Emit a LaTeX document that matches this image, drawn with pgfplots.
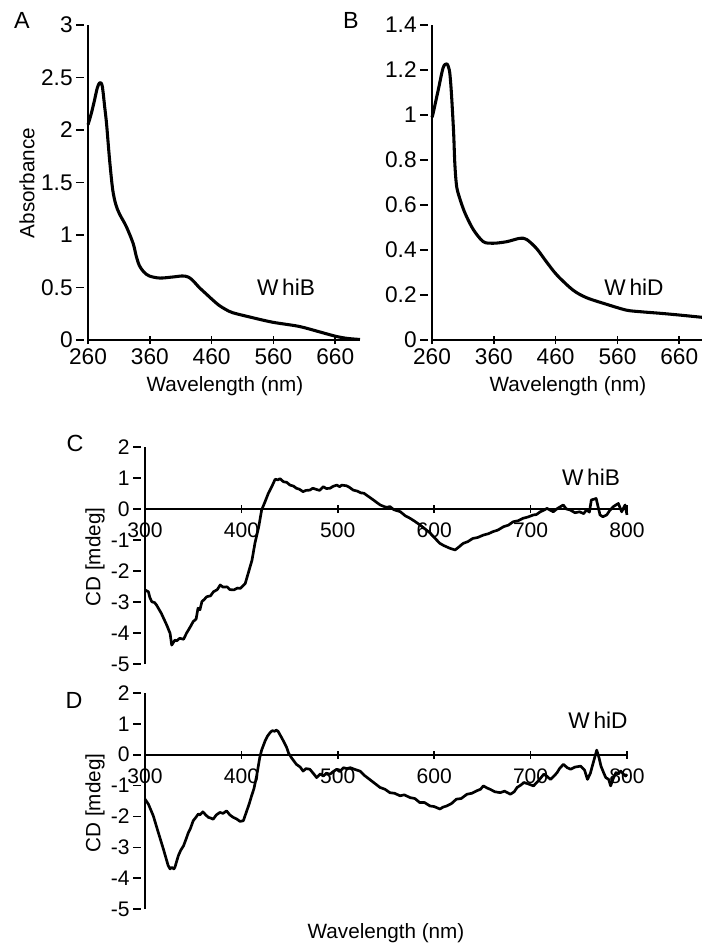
\documentclass[border=0pt]{standalone}
\usepackage{fontspec}
\setmainfont{Liberation Sans}
\usepackage{pgfplots}
\pgfplotsset{compat=1.18}

\newcommand\tfont{\fontsize{15.5}{18}\selectfont}
\newcommand\afont{\fontsize{17}{19}\selectfont}
\newcommand\cfont{\fontsize{15.8}{18}\selectfont}
\pgfplotsset{
  base/.style={
    scale only axis,
    anchor=south west,
    axis line style={line width=1.4pt},
    tick style={line width=1.2pt, black},
    tick align=inside,
    major tick length=6pt,
    every major y tick/.append style={xshift=-6pt},
    /pgf/number format/assume math mode=true,
    clip=false,
  },
  noarr/.style={
    every outer x axis line/.append style={-},
    every outer y axis line/.append style={-},
    every inner x axis line/.append style={-},
    every inner y axis line/.append style={-},
  },
  curve/.style={black, line width=2.3pt, line join=round, no marks},
}

\begin{document}
\begin{tikzpicture}
% ---------- A ----------
\begin{axis}[base, at={(66pt,-255pt)}, width=204pt, height=236.25pt,
  axis lines=left, noarr, xmin=260, xmax=700, ymin=0, ymax=3,
  tick label style={font=\afont},
  xtick={260,360,460,560,660}, ytick={0,0.5,1,1.5,2,2.5,3},
  yticklabel style={xshift=-5pt}, xticklabel style={yshift=-2pt, inner ysep=1pt}]
\addplot[curve, smooth, tension=0.5] coordinates {
(260,2.05) (265,2.15) (270,2.27) (275,2.40) (279,2.45) (283,2.42) (287,2.22)
(290,2.06) (295,1.71) (300,1.43) (305,1.29) (311,1.20) (322,1.08) (333,0.92)
(338,0.80) (343,0.71) (350,0.65) (359,0.61) (376,0.59) (397,0.60) (413,0.61) (422,0.60)
(429,0.57) (440,0.50) (451,0.44) (462,0.38) (472,0.33) (483,0.29) (494,0.26)
(521,0.22) (558,0.17) (601,0.13) (633,0.08) (661,0.035) (680,0.015) (700,0.005)};
\end{axis}
% ---------- B ----------
\begin{axis}[base, at={(324pt,-255pt)}, width=204pt, height=236.25pt,
  axis lines=left, noarr, xmin=260, xmax=700, ymin=0, ymax=1.4,
  tick label style={font=\afont},
  xtick={260,360,460,560,660}, ytick={0,0.2,0.4,0.6,0.8,1,1.2,1.4},
  yticklabel style={xshift=-5pt}, xticklabel style={yshift=-2pt, inner ysep=1pt}]
\addplot[curve, smooth, tension=0.5] coordinates {
(260,0.99) (262,1.01) (270,1.11) (278,1.21) (284,1.227) (288,1.20) (290,1.15)
(292,1.07) (295,0.92) (297,0.78) (300,0.68) (306,0.62) (314,0.56) (327,0.49)
(343,0.437) (359,0.43) (381,0.437) (402,0.452) (413,0.447) (429,0.407)
(445,0.348) (462,0.289) (488,0.222) (510,0.188) (542,0.159) (574,0.133)
(596,0.126) (628,0.119) (660,0.111) (700,0.10)};
\end{axis}
% ---------- C ----------
\begin{axis}[base, at={(108.75pt,-498pt)}, width=361.5pt, height=162.75pt,
  axis x line=middle, axis y line=left, noarr, hide obscured x ticks=false,
  tick label style={font=\cfont},
  xmin=300, xmax=800, ymin=-5, ymax=2,
  xtick={300,400,500,600,700,800}, ytick={-5,-4,-3,-2,-1,0,1,2},
  yticklabel style={xshift=-5pt}, xticklabel style={yshift=-4pt}]
\addplot[curve, line width=2pt] coordinates {
(300,-2.61) (303.5,-2.67) (305,-2.85) (307,-2.99) (310,-3.02) (312,-3.10) (317,-3.37) (322.5,-3.74)
(326,-4.01) (327.7,-4.39) (331,-4.23) (333,-4.25) (336,-4.17) (340,-4.20) (343,-4.01)
(347,-3.80) (350,-3.63) (353,-3.55) (355,-3.20) (357,-3.25) (359,-2.99) (362,-2.90) (364,-2.83)
(368,-2.80) (371,-2.67) (375,-2.60) (378,-2.45) (381,-2.52) (385,-2.51) (388,-2.60)
(392,-2.61) (396,-2.55) (399,-2.56) (404,-2.40) (407,-2.08) (411,-1.65)
(414,-1.11) (418,-0.57) (421,-0.03) (424.6,0.24) (428,0.51) (431.5,0.72)
(435,0.96) (438,0.94) (440,0.98) (443.6,0.88) (447,0.86) (450.5,0.77) (454,0.74) (457,0.67) (460,0.64) (464,0.56)
(467,0.60) (471,0.61) (474,0.67) (478,0.63) (481,0.60) (485,0.72) (488,0.66) (492,0.67) (495,0.73) (499,0.77) (502,0.72) (504,0.77) (509,0.75)
(512,0.70) (516,0.61) (520,0.58) (524,0.52) (527,0.51) (532,0.40) (537,0.29) (540,0.22) (544,0.13) (548,0.08) (551,0.05) (554,0.08) (558,-0.02) (565,-0.09)
(570,-0.22) (575,-0.30) (580,-0.40) (585.5,-0.52) (590,-0.63) (596,-0.78) (600,-0.92) (606,-1.11) (610,-1.18) (616.5,-1.27) (621.7,-1.32)
(625,-1.24) (630,-1.11) (635,-1.05) (640,-0.95) (645,-0.92) (651,-0.84) (656,-0.80) (661,-0.73) (666,-0.68) (672,-0.57) (677,-0.52) (682,-0.41)
(687,-0.38) (692,-0.30) (697,-0.26) (703,-0.19) (706,-0.18) (710,-0.09) (713,-0.05) (717,0.02) (723.5,-0.09) (728,0.02) (733.9,0.13)
(737,0.0) (741,-0.03) (746,-0.12) (751,-0.09) (755,-0.15) (758,-0.03) (761,-0.10) (763,0.29) (768,0.34) (772,-0.19)
(775,-0.25) (779,-0.19) (782,-0.05) (786,0.08) (791,0.18) (794.5,-0.09) (798,0.13) (800,-0.19)};
\end{axis}
% ---------- D ----------
\begin{axis}[base, at={(108.75pt,-681.75pt)}, width=361.5pt, height=162pt,
  axis x line=middle, axis y line=left, noarr, hide obscured x ticks=false,
  tick label style={font=\cfont},
  xmin=300, xmax=800, ymin=-5, ymax=2,
  xtick={300,400,500,600,700,800}, ytick={-5,-4,-3,-2,-1,0,1,2},
  yticklabel style={xshift=-5pt}, xticklabel style={yshift=-4pt}]
\addplot[curve, line width=2pt] coordinates {
(300,-1.44) (303.5,-1.60) (308.6,-1.98) (313.8,-2.52) (319,-3.05) (324,-3.59)
(326,-3.70) (327.7,-3.65) (330,-3.70) (331,-3.65) (334.6,-3.27) (337,-3.10) (340,-2.95) (343,-2.70) (345,-2.52) (347,-2.40) (350,-2.14)
(353,-2.02) (355.3,-1.92) (357,-1.95) (360,-1.85) (363,-1.95) (365.7,-2.03) (368,-2.05) (370.7,-2.09) (374,-1.95) (377.7,-1.87)
(381,-1.90) (384.6,-1.82) (388,-1.95) (391.5,-2.03) (395,-2.08) (398.5,-2.16) (402,-2.14) (405,-1.87) (408,-1.60) (410.6,-1.33)
(413,-1.10) (415.8,-0.69) (419,-0.10) (421,0.15) (424.5,0.44) (427,0.60) (429.6,0.71) (432,0.78) (434.7,0.76) (436,0.80) (438,0.76)
(441.8,0.55) (444,0.42) (447,0.23) (449,0.05) (452,-0.10) (457,-0.31) (461,-0.40) (464,-0.53) (467,-0.45) (471,-0.47)
(475,-0.62) (478,-0.74) (482,-0.62) (485,-0.69) (488,-0.60) (492,-0.63) (495,-0.55) (499,-0.47) (502,-0.55) (506,-0.42) (509,-0.45) (513,-0.42)
(518,-0.48) (523,-0.53) (528,-0.68) (533,-0.80) (538,-0.92) (543.8,-1.06) (549,-1.12) (554,-1.23) (559,-1.25) (564.5,-1.33) (569,-1.30) (575,-1.39)
(580,-1.42) (585,-1.55) (590,-1.55) (595.6,-1.66) (600,-1.68) (606,-1.76) (609,-1.70) (613,-1.66) (618,-1.58) (623,-1.44) (628,-1.42) (634,-1.28)
(639,-1.25) (644,-1.17) (648,-1.12) (651,-1.01) (655,-1.08) (658,-1.12) (663,-1.20) (668.5,-1.23) (673,-1.18) (679,-1.28) (683,-1.20) (686,-1.06)
(690,-0.98) (693,-0.90) (698,-0.95) (703,-1.01) (708,-0.85) (713.7,-0.63) (717,-0.70) (720.6,-0.80) (724,-0.70) (727.5,-0.58) (730,-0.45) (734,-0.31)
(738,-0.42) (741.6,-0.47) (746,-0.40) (752,-0.37) (756,-0.50) (759,-0.80) (762,-0.60) (764,-0.37) (768.6,0.15) (771,-0.10) (773,-0.37)
(776,-0.60) (778,-0.74) (781,-0.80) (783,-1.01) (786,-0.75) (788.6,-0.58) (791,-0.62) (793.5,-0.53) (796,-0.62) (798.6,-0.69) (800,-0.63)};
\end{axis}
% ---------- texts ----------
\begin{scope}[x=0.75pt, y=-0.75pt, every node/.style={font=\tfont, inner sep=0pt}]
\node[font=\fontsize{17.5}{20}\selectfont] at (22,20) {A};
\node[font=\fontsize{17.5}{20}\selectfont] at (351,20) {B};
\node[font=\fontsize{17.5}{20}\selectfont] at (75,443) {C};
\node[font=\fontsize{17.5}{20}\selectfont] at (74,700) {D};
\node[rotate=90] at (27,183) {Absorbance};
\node[rotate=90] at (95,557) {CD [mdeg]};
\node[rotate=90] at (95,803) {CD [mdeg]};
\node at (225,386) {Wavelength (nm)};
\node at (568,386) {Wavelength (nm)};
\node at (386,933) {Wavelength (nm)};
\node[font=\fontsize{17}{20}\selectfont] at (286,287) {W\,hiB};
\node[font=\fontsize{17}{20}\selectfont] at (634,287) {W\,hiD};
\node[font=\fontsize{17}{20}\selectfont] at (591,477) {W\,hiB};
\node[font=\fontsize{17}{20}\selectfont] at (598,720) {W\,hiD};
\end{scope}
\pgfresetboundingbox
\useasboundingbox (0pt,0pt) rectangle (525.75pt,-708.75pt);
\end{tikzpicture}
\end{document}
